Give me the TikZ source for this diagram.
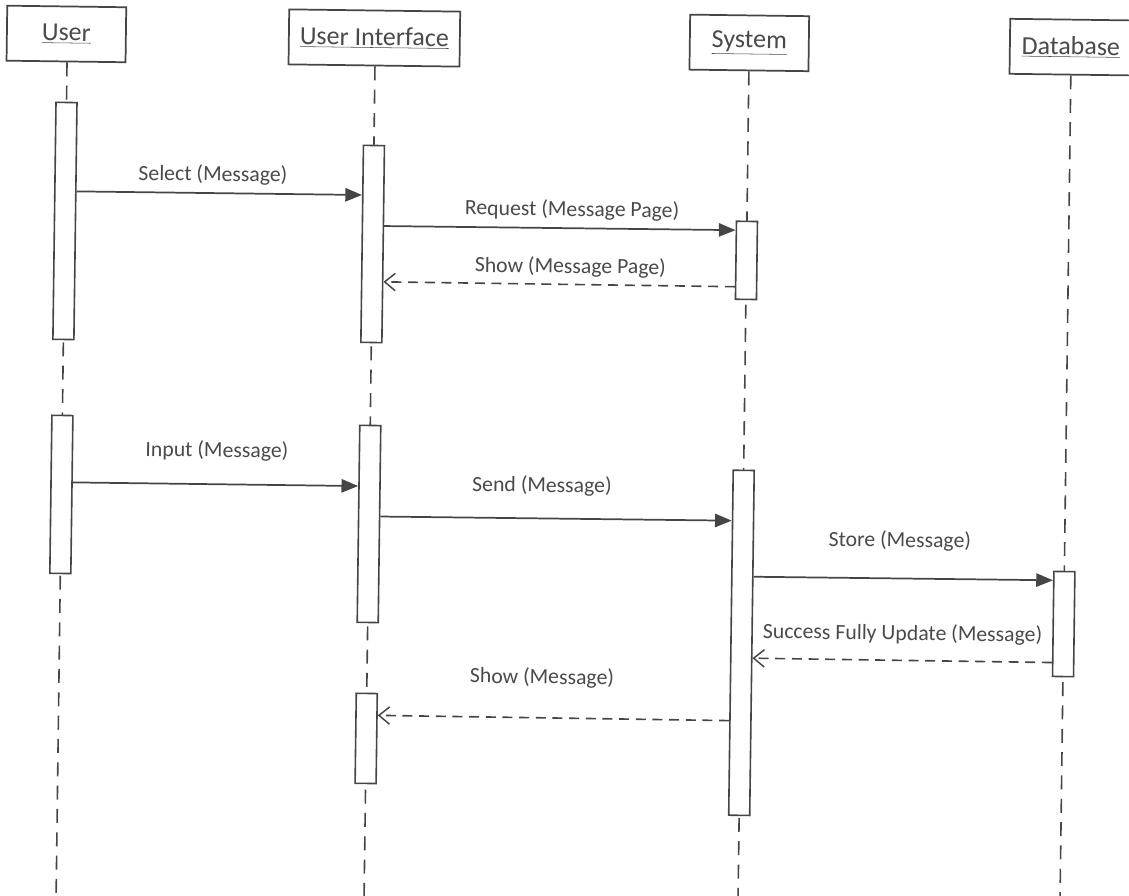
\documentclass[tikz,border=0pt]{standalone}
\usepackage{fontspec}
\setmainfont{Carlito}
\usetikzlibrary{arrows.meta,calc}

\definecolor{ink}{HTML}{454545}
\definecolor{txt}{HTML}{4A4A4A}

\tikzset{
  head/.style={draw=ink, line width=1.3pt, fill=white, minimum height=41.25pt,
               inner sep=0pt, font=\fontsize{19.5pt}{22pt}\selectfont, text=txt},
  life/.style={draw=ink, line width=1.2pt, dash pattern=on 10.5pt off 7pt},
  actbar/.style={draw=ink, line width=1.2pt, fill=white, minimum width=15.75pt,
                 inner sep=0pt},
  call/.style={draw=ink, line width=1.3pt, -{Triangle[length=12.5pt,width=10pt]}},
  reply/.style={draw=ink, line width=1.2pt, dash pattern=on 7.5pt off 5pt,
                -{Straight Barb[length=8pt,width=13pt,line width=1.1pt]}},
  msglabel/.style={font=\fontsize{16.3pt}{19pt}\selectfont, text=txt, inner sep=1pt},
}

\begin{document}
\begin{tikzpicture}[x=0.75pt,y=-0.75pt]
\useasboundingbox (0,0) rectangle (1129,896);
\clip (0,0) rectangle (1129,896);

\begin{scope}[rotate around={-0.75:(564,448)}, transform shape]

% participants
\node[head, minimum width=89.25pt]  (user) at (61,40.5)    {\underline{User}};
\node[head, minimum width=128.25pt] (ui)   at (369,40.5)   {\underline{User Interface}};
\node[head, minimum width=89.25pt]  (sys)  at (744,40.5)   {\underline{System}};
\node[head, minimum width=91.5pt]   (db)   at (1065.6,40.5){\underline{Database}};

% lifeline ends
\coordinate (userEnd) at (62,915);
\coordinate (uiEnd)   at (370,915);
\coordinate (sysEnd)  at (744,915);
\coordinate (dbEnd)   at (1066,915);

\draw[life] (user.south -| userEnd) -- (userEnd);
\draw[life] (ui.south -| uiEnd)     -- (uiEnd);
\draw[life] (sys.south -| sysEnd)   -- (sysEnd);
\draw[life] (db.south -| dbEnd)     -- (dbEnd);

% activation bars
\node[actbar, minimum height=177.75pt] (u1) at (62,227.5)  {};
\node[actbar, minimum height=147.75pt] (i1) at (370,246.5) {};
\node[actbar, minimum height=58.5pt]   (s1) at (744,258)   {};
\node[actbar, minimum height=118.5pt]  (u2) at (62,501)    {};
\node[actbar, minimum height=147.75pt] (i2) at (370,526.5) {};
\node[actbar, minimum height=258.75pt] (s2) at (744,640.5) {};
\node[actbar, minimum height=78.75pt]  (d1) at (1066,617.5){};
\node[actbar, minimum height=67.5pt]   (i3) at (370,741)   {};

% messages
\draw[call]  ($(u1.north east)!0.3755!(u1.south east)$) -- ($(i1.north west)!0.254!(i1.south west)$);
\draw[call]  ($(i1.north east)!0.409!(i1.south east)$)  -- ($(s1.north west)!0.122!(s1.south west)$);
\draw[reply] ($(s1.north west)!0.833!(s1.south west)$)  -- ($(i1.north east)!0.690!(i1.south east)$);
\draw[call]  ($(u2.north east)!0.424!(u2.south east)$)  -- ($(i2.north west)!0.310!(i2.south west)$);
\draw[call]  ($(i2.north east)!0.462!(i2.south east)$)  -- ($(s2.north west)!0.148!(s2.south west)$);
\draw[call]  ($(s2.north east)!0.309!(s2.south east)$)  -- ($(d1.north west)!0.091!(d1.south west)$);
\draw[reply] ($(d1.north west)!0.863!(d1.south west)$)  -- ($(s2.north east)!0.544!(s2.south east)$);
\draw[reply] ($(s2.north west)!0.725!(s2.south west)$)  -- ($(i3.north east)!0.247!(i3.south east)$);

% message labels
\node[msglabel] (lSelect)  at (209.4,179.6) {Select (Message)};
\node[msglabel] (lRequest) at (569,210)     {Request (Message Page)};
\node[msglabel] (lShowPg)  at (568,267)     {Show (Message Page)};
\node[msglabel] (lInput)   at (217,455.5)   {Input (Message)};
\node[msglabel] (lSend)    at (542.5,486.3) {Send (Message)};
\node[msglabel] (lStore)   at (901,536.6)   {Store (Message)};
\node[msglabel] (lSuccess) at (905,629.6)   {Success Fully Update (Message)};
\node[msglabel] (lShow)    at (545,678)     {Show (Message)};

\end{scope}
\end{tikzpicture}
\end{document}
